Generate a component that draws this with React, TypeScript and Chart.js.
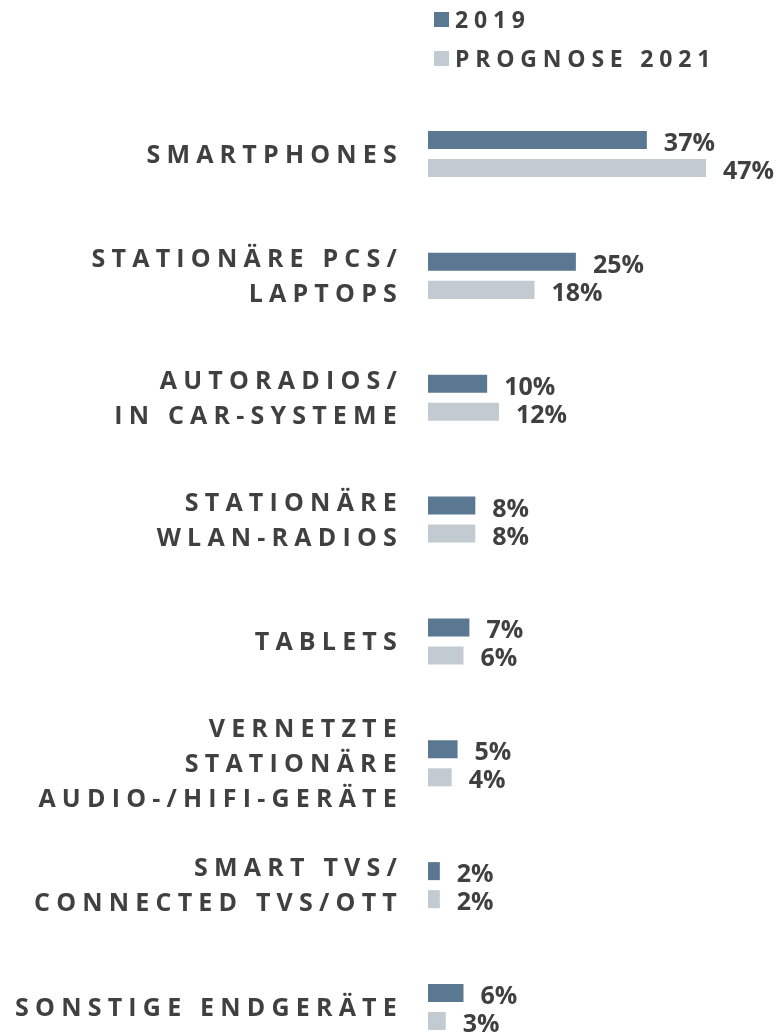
import { useEffect, useRef } from "react";
import { Chart, registerables } from "chart.js";

Chart.register(...registerables);

const categories: string[][] = [
  ["SMARTPHONES"],
  ["STATIONÄRE PCS/", "LAPTOPS"],
  ["AUTORADIOS/", "IN CAR-SYSTEME"],
  ["STATIONÄRE", "WLAN-RADIOS"],
  ["TABLETS"],
  ["VERNETZTE", "STATIONÄRE", "AUDIO-/HIFI-GERÄTE"],
  ["SMART TVS/", "CONNECTED TVS/OTT"],
  ["SONSTIGE ENDGERÄTE"],
];
const values2019 = [37, 25, 10, 8, 7, 5, 2, 6];
const values2021 = [47, 18, 12, 8, 6, 4, 2, 3];
const seriesNames = ["2019", "PROGNOSE 2021"];

const COLORS = ["#5b7893", "#c3cbd2"];
const TEXT = "#404040";
const FAMILY = "'Open Sans', 'DejaVu Sans', sans-serif";

const customPlugin = {
  id: "custom",
  beforeDraw(chart: any) {
    chart.ctx.letterSpacing = "6.2px";
  },
  beforeDatasetsDraw(chart: any) {
    chart.ctx.letterSpacing = "0px";
  },
  afterDatasetsDraw(chart: any) {
    const ctx = chart.ctx;
    ctx.save();
    ctx.letterSpacing = "0px";
    ctx.fillStyle = TEXT;
    ctx.font = `bold 25px ${FAMILY}`;
    ctx.textAlign = "left";
    ctx.textBaseline = "alphabetic";
    chart.data.datasets.forEach((ds: any, di: number) => {
      const meta = chart.getDatasetMeta(di);
      meta.data.forEach((bar: any, i: number) => {
        ctx.fillText(`${ds.data[i]}%`, bar.x + 17, bar.y + 11);
      });
    });
    // legend
    ctx.font = `bold 23px ${FAMILY}`;
    ctx.letterSpacing = "5.8px";
    const legendTop = [12, 51];
    chart.data.datasets.forEach((ds: any, di: number) => {
      ctx.fillStyle = ds.backgroundColor;
      ctx.fillRect(434, legendTop[di], 15, 15);
      ctx.fillStyle = TEXT;
      ctx.fillText(ds.label, 455, legendTop[di] + 15.5);
    });
    ctx.restore();
  },
};

export default function App() {
  const ref = useRef<HTMLCanvasElement>(null);
  useEffect(() => {
    if (!ref.current) return;
    const chart = new Chart(ref.current, {
      type: "bar",
      data: {
        labels: categories,
        datasets: [
          {
            label: seriesNames[0],
            data: values2019,
            backgroundColor: COLORS[0],
            categoryPercentage: 0.46,
            barPercentage: 0.643,
            clip: false,
          },
          {
            label: seriesNames[1],
            data: values2021,
            backgroundColor: COLORS[1],
            categoryPercentage: 0.46,
            barPercentage: 0.643,
            clip: false,
          },
        ],
      },
      options: {
        indexAxis: "y",
        responsive: false,
        animation: false,
        layout: { padding: { top: 154, bottom: 27, left: 0, right: 2 } },
        plugins: {
          legend: { display: false },
          tooltip: { enabled: false },
        },
        scales: {
          x: { display: false, min: 0, max: 59 },
          y: {
            offset: false,
            border: { display: false },
            grid: { display: false, drawTicks: false },
            afterFit: (scale: any) => {
              scale.width = 428;
              scale.paddingTop = 0;
              scale.paddingBottom = 0;
            },
            ticks: {
              autoSkip: false,
              padding: 25,
              labelOffset: 1.5,
              color: TEXT,
              font: { family: FAMILY, weight: "bold", size: 25, lineHeight: 1.4 },
            },
          },
        },
      },
      plugins: [customPlugin],
    });
    return () => chart.destroy();
  }, []);
  return (
    <div style={{ position: "fixed", left: 0, top: 0, width: 779, height: 1034, background: "#fff" }}>
      <canvas ref={ref} width={779} height={1034} />
    </div>
  );
}
